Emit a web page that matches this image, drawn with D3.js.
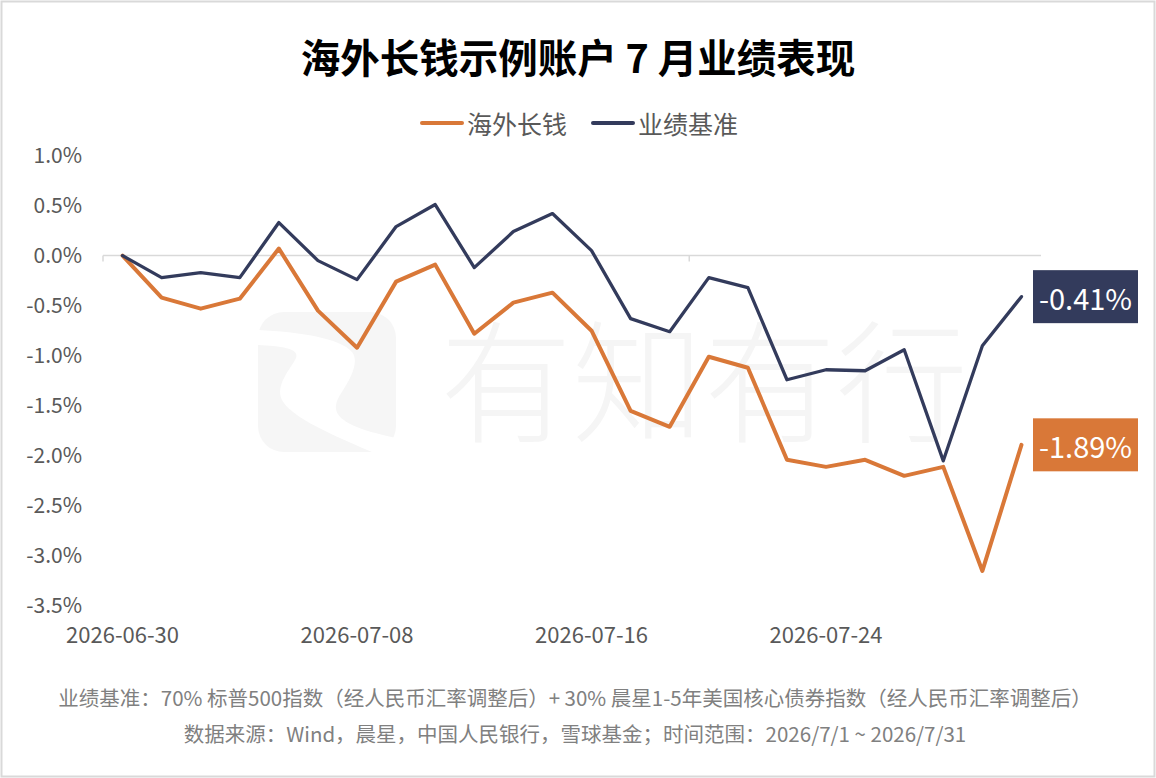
<!DOCTYPE html>
<html>
<head>
<meta charset="utf-8">
<script src="https://cdn.jsdelivr.net/npm/d3@7"></script>
<style>
  html, body { margin: 0; padding: 0; background: #fff; }
  svg text { font-family: "Noto Sans CJK SC", "Noto Sans", sans-serif; }
</style>
</head>
<body>
<svg id="chart" width="1156" height="778"></svg>
<script>
/* ============================================================
   DATA
============================================================ */
const dates = [
  "2026-06-30","2026-07-01","2026-07-02","2026-07-03","2026-07-06","2026-07-07",
  "2026-07-08","2026-07-09","2026-07-10","2026-07-13","2026-07-14","2026-07-15",
  "2026-07-16","2026-07-17","2026-07-20","2026-07-21","2026-07-22","2026-07-23",
  "2026-07-24","2026-07-27","2026-07-28","2026-07-29","2026-07-30","2026-07-31"
];
const fundValues = [
  0, -0.42, -0.53, -0.43, 0.07, -0.55, -0.92, -0.26, -0.09, -0.78, -0.47, -0.37,
  -0.75, -1.55, -1.71, -1.01, -1.12, -2.04, -2.11, -2.04, -2.20, -2.11, -3.15, -1.89
];
const benchValues = [
  0, -0.22, -0.17, -0.22, 0.33, -0.05, -0.24, 0.29, 0.51, -0.12, 0.24, 0.42,
  0.05, -0.63, -0.76, -0.22, -0.32, -1.24, -1.14, -1.15, -0.94, -2.05, -0.90, -0.41
];
const seriesNames = ["海外长钱", "业绩基准"];
const seriesColors = ["#D97838", "#333B5C"];
const yTicks = [1.0, 0.5, 0, -0.5, -1.0, -1.5, -2.0, -2.5, -3.0, -3.5];
const xLabelEvery = 6;
const xTickEvery = 15;

const title = "海外长钱示例账户 7 月业绩表现";
const notes = [
  "业绩基准：70% 标普500指数（经人民币汇率调整后）+ 30% 晨星1-5年美国核心债券指数（经人民币汇率调整后）",
  "数据来源：Wind，晨星，中国人民银行，雪球基金；时间范围：2026/7/1 ~ 2026/7/31"
];

/* ============================================================
   SETUP
============================================================ */
const W = 1156, H = 778;
const svg = d3.select("#chart");
const latinFont = "\"Noto Sans\", \"Noto Sans CJK SC\", sans-serif";

svg.append("rect")
  .attr("x", 1.5).attr("y", 1.5)
  .attr("width", W - 3).attr("height", H - 3)
  .attr("fill", "#fff")
  .attr("stroke", "#d9d9d9")
  .attr("stroke-width", 2);

const x = d3.scaleBand().domain(dates).range([103, 1041]);
const y = d3.scaleLinear().domain([-3.5, 1.0]).range([606, 155.5]);
const cx = d => x(d) + x.bandwidth() / 2;

/* ============================================================
   WATERMARK
============================================================ */
const wm = svg.append("g");
wm.append("rect")
  .attr("x", 258).attr("y", 312)
  .attr("width", 138).attr("height", 140)
  .attr("rx", 26)
  .attr("fill", "#f6f6f6");
wm.append("path")
  .attr("d", "M258,330 C300,332 340,338 352,352 C360,362 350,380 340,395 C330,412 335,425 396,438 L396,452 L372,452 C320,430 290,415 282,400 C275,385 290,370 296,358 C300,348 280,346 258,345 Z")
  .attr("fill", "#fff");
wm.append("text")
  .attr("x", 440).attr("y", 432)
  .attr("font-size", 132)
  .attr("font-weight", 300)
  .attr("fill", "#f5f5f5")
  .text("有知有行");

/* ============================================================
   TITLE + LEGEND
============================================================ */
svg.append("text")
  .attr("x", W / 2).attr("y", 55)
  .attr("text-anchor", "middle")
  .attr("dominant-baseline", "central")
  .attr("font-size", 39.5)
  .attr("font-weight", 700)
  .attr("fill", "#000")
  .text(title);

const legendX = [422, 593];
seriesNames.forEach((name, i) => {
  const g = svg.append("g").attr("transform", `translate(${legendX[i]},123)`);
  g.append("line")
    .attr("x1", 0).attr("x2", 40)
    .attr("stroke", seriesColors[i])
    .attr("stroke-width", 4)
    .attr("stroke-linecap", "round");
  g.append("text")
    .attr("x", 45)
    .attr("dominant-baseline", "central")
    .attr("font-size", 25)
    .attr("fill", "#595959")
    .text(name);
});

/* ============================================================
   AXES
============================================================ */
const fmtPct = v => d3.format(".1f")(v).replace("−", "-") + "%";

const yAxis = svg.append("g")
  .attr("transform", "translate(82,0)")
  .call(d3.axisLeft(y).tickValues(yTicks).tickSize(0).tickPadding(0).tickFormat(fmtPct));
yAxis.select(".domain").remove();
yAxis.selectAll("text")
  .attr("font-size", 21)
  .attr("fill", "#595959")
  .attr("font-family", latinFont);

// zero axis line with tick marks between categories
svg.append("line")
  .attr("x1", x.range()[0]).attr("x2", x.range()[1])
  .attr("y1", y(0)).attr("y2", y(0))
  .attr("stroke", "#d9d9d9")
  .attr("stroke-width", 1.5);
svg.selectAll(".xtick")
  .data(dates.filter((d, i) => i % xTickEvery === 0))
  .enter().append("line")
  .attr("class", "xtick")
  .attr("x1", d => x(d)).attr("x2", d => x(d))
  .attr("y1", y(0)).attr("y2", y(0) + 6)
  .attr("stroke", "#d9d9d9")
  .attr("stroke-width", 1.5);

const xAxis = svg.append("g")
  .attr("transform", "translate(0,627)")
  .call(d3.axisBottom(x)
    .tickValues(dates.filter((d, i) => i % xLabelEvery === 0))
    .tickSize(0).tickPadding(0));
xAxis.select(".domain").remove();
xAxis.selectAll("text")
  .attr("font-size", 22)
  .attr("fill", "#595959")
  .attr("font-family", latinFont);

/* ============================================================
   LINES
============================================================ */
const line = d3.line()
  .x((v, i) => cx(dates[i]))
  .y(v => y(v));

[fundValues, benchValues].forEach((vals, i) => {
  svg.append("path")
    .datum(vals)
    .attr("d", line)
    .attr("fill", "none")
    .attr("stroke", seriesColors[i])
    .attr("stroke-width", i === 0 ? 4 : 3.3)
    .attr("stroke-linejoin", "round")
    .attr("stroke-linecap", "round");
});

/* ============================================================
   END LABELS
============================================================ */
const last = dates.length - 1;
[fundValues, benchValues].forEach((vals, i) => {
  const v = vals[last];
  const g = svg.append("g").attr("transform", `translate(1033,${y(v)})`);
  g.append("rect")
    .attr("x", 0).attr("y", -26.5)
    .attr("width", 105).attr("height", 53)
    .attr("fill", seriesColors[i]);
  g.append("text")
    .attr("x", 52.5)
    .attr("text-anchor", "middle")
    .attr("dominant-baseline", "central")
    .attr("font-size", 29)
    .attr("font-family", latinFont)
    .attr("fill", "#fff")
    .text(d3.format(".2f")(v).replace("−", "-") + "%");
});

/* ============================================================
   NOTES
============================================================ */
notes.forEach((t, i) => {
  svg.append("text")
    .attr("x", W / 2 - 3).attr("y", 697 + i * 36)
    .attr("text-anchor", "middle")
    .attr("dominant-baseline", "central")
    .attr("font-size", 20.5)
    .attr("fill", "#808080")
    .text(t);
});
</script>
</body>
</html>
